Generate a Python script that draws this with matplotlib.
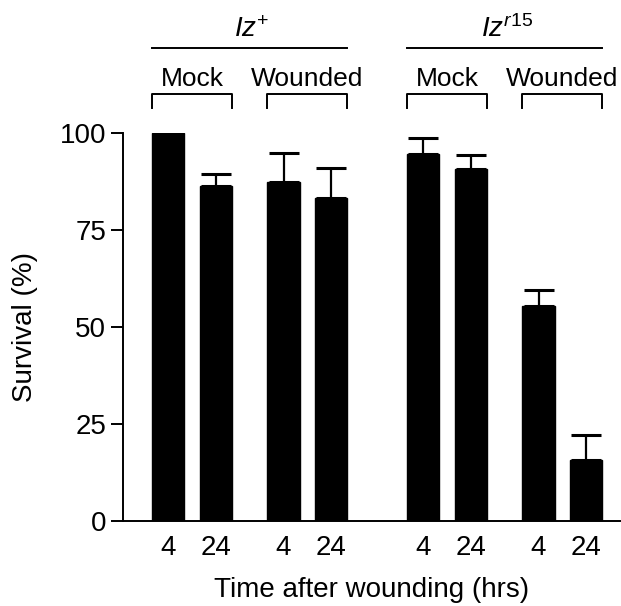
import matplotlib
matplotlib.use("Agg")
import matplotlib.pyplot as plt
import matplotlib.transforms as mtransforms

plt.rcParams['font.family'] = ['Liberation Sans', 'DejaVu Sans']
plt.rcParams['mathtext.fontset'] = 'custom'
plt.rcParams['mathtext.rm'] = 'Liberation Sans'
plt.rcParams['mathtext.it'] = 'Liberation Sans:italic'
plt.rcParams['mathtext.bf'] = 'Liberation Sans:bold'

genotypes = ["$Iz^{+}$", "$Iz^{r15}$"]
treatments = ["Mock", "Wounded"]
time_labels = ["4", "24"]
survival = [100.0, 86.3, 87.4, 83.3, 94.6, 90.6, 55.5, 15.7]
err_upper = [0.0, 3.1, 7.4, 7.8, 4.1, 3.7, 4.0, 6.5]

W, H = 621, 606
fig = plt.figure(figsize=(W / 100, H / 100), dpi=100)
ax_left, ax_right = 123, 620
ax_top, ax_bot = 133, 520.7
ax = fig.add_axes([ax_left / W, 1 - ax_bot / H, (ax_right - ax_left) / W, (ax_bot - ax_top) / H])

# layout positions (bar centres)
pair_gap = 1.0
treat_gap = 2.42
geno_gap = 5.35
positions = []
for g in range(2):
    for t in range(2):
        for k in range(2):
            positions.append(g * geno_gap + t * treat_gap + k * pair_gap)

bw = 0.68
ax.bar(positions, survival, width=bw, color='black', edgecolor='black', zorder=2)
ax.errorbar(positions, survival, yerr=[[0] * len(err_upper), err_upper], fmt='none',
            ecolor='black', elinewidth=1.6, capsize=11, capthick=2.2, zorder=1)

ax.set_xlim(-0.95, 9.48)
ax.set_ylim(0, 100)
ax.set_yticks([0, 25, 50, 75, 100])
ax.set_xticks(positions)
ax.set_xticklabels(time_labels * 4)
ax.tick_params(axis='y', direction='out', length=9, width=1.4, labelsize=20, pad=3)
ax.tick_params(axis='x', length=0, labelsize=20, pad=10)
for s in ['top', 'right']:
    ax.spines[s].set_visible(False)
ax.spines['left'].set_linewidth(1.4)
ax.spines['bottom'].set_linewidth(1.4)
ax.spines['left'].set_bounds(0, 100)
ax.set_ylabel("Survival (%)", fontsize=20, labelpad=16)
ax.set_xlabel("Time after wounding (hrs)", fontsize=20, labelpad=12)

trans = mtransforms.blended_transform_factory(ax.transData, fig.transFigure)
def fy(px):
    return 1 - px / H

for g in range(2):
    base = g * 4
    x0 = positions[base] - bw / 2
    x1 = positions[base + 3] + bw / 2
    ax.plot([x0, x1], [fy(47.5), fy(47.5)], transform=trans, color='black', lw=1.4, clip_on=False)
    ax.text((x0 + x1) / 2 + 0.05, fy(37), genotypes[g], transform=trans, ha='center', va='baseline',
            fontsize=20)
    for t in range(2):
        i = base + t * 2
        bx0 = positions[i] - bw / 2
        bx1 = positions[i + 1] + bw / 2
        ax.plot([bx0, bx0, bx1, bx1], [fy(108), fy(94), fy(94), fy(108)], transform=trans,
                color='black', lw=1.4, clip_on=False)
        ax.text((bx0 + bx1) / 2, fy(86), treatments[t], transform=trans, ha='center',
                va='baseline', fontsize=19)

fig.savefig("out.png", dpi=100)
